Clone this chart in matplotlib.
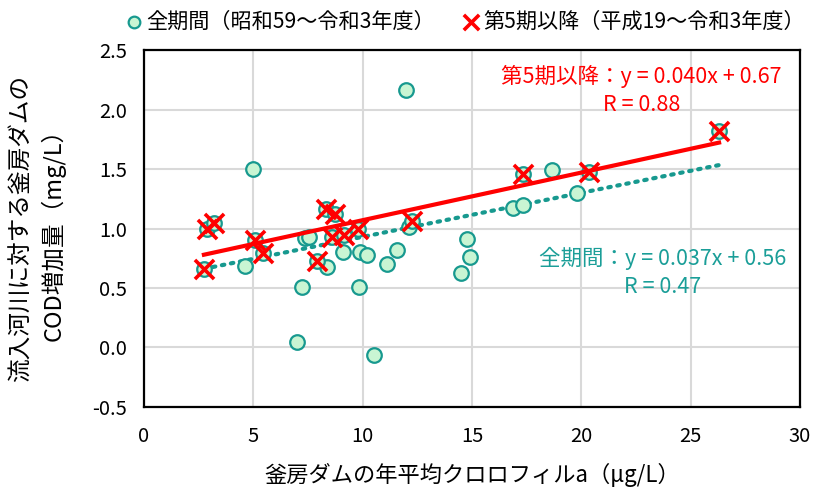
import matplotlib
matplotlib.use('Agg')
from matplotlib import pyplot as plt
import numpy as np

plt.rcParams['font.family'] = ['Noto Sans CJK JP', 'DejaVu Sans']

# all years (S59 - R3)
all_x = [5.0, 4.60, 7.38, 7.53, 7.22, 7.02, 8.37, 9.09, 9.87, 10.2, 9.83, 11.11,
         11.59, 12.12, 10.5, 18.66, 16.86, 17.35, 19.82, 14.78, 14.9, 14.52, 12.0,
         2.74, 2.86, 3.19, 5.09, 5.42, 7.90, 8.31, 8.73, 8.58, 9.15, 9.78, 12.27,
         17.31, 20.35, 26.3]
all_y = [1.50, 0.685, 0.92, 0.93, 0.51, 0.05, 0.68, 0.80, 0.80, 0.78, 0.51, 0.70,
         0.82, 1.01, -0.06, 1.49, 1.17, 1.20, 1.30, 0.91, 0.76, 0.63, 2.165,
         0.66, 1.00, 1.05, 0.90, 0.79, 0.73, 1.165, 1.12, 0.925, 0.945, 0.995, 1.06,
         1.46, 1.475, 1.82]
# period 5 onward (H19 - R3)
p5_x = [2.74, 2.86, 3.19, 5.09, 5.42, 7.90, 8.31, 8.73, 8.58, 9.15, 9.78, 12.27,
        17.31, 20.35, 26.3]
p5_y = [0.66, 1.00, 1.05, 0.90, 0.79, 0.73, 1.165, 1.12, 0.925, 0.945, 0.995, 1.06,
        1.46, 1.475, 1.82]

fit_all = (0.037, 0.56)
fit_p5 = (0.040, 0.67)

teal = '#17998f'
teal_txt = '#1a9e98'
red = '#ff0000'

fig = plt.figure(figsize=(8.2, 4.88), dpi=100)
ax = fig.add_axes([0.1756, 0.166, 0.80, 0.7315])

xs = np.array([min(p5_x), max(p5_x)])
ax.plot(xs, fit_all[0] * xs + fit_all[1], color=teal, lw=3, ls=(0, (0.6, 1.6)),
        dash_capstyle='round', zorder=2)
sc1 = ax.scatter(all_x, all_y, s=110, facecolor='#c9f5d3', edgecolor=teal, lw=1.6,
                 zorder=3, label='全期間（昭和59～令和3年度）')
ax.plot(xs, fit_p5[0] * xs + fit_p5[1], color=red, lw=3, zorder=4)
sc2 = ax.scatter(p5_x, p5_y, s=190, marker='x', color=red, lw=2.6, zorder=5,
                 label='第5期以降（平成19～令和3年度）')

ax.set_xlim(0, 30)
ax.set_ylim(-0.5, 2.5)
ax.set_xticks(np.arange(0, 31, 5))
ax.set_yticks(np.arange(-0.5, 2.51, 0.5))
ax.set_yticklabels(['%.1f' % v for v in np.arange(-0.5, 2.51, 0.5)])
ax.grid(True, color='#d9d9d9', lw=1.5)
ax.set_axisbelow(True)
ax.tick_params(length=0, labelsize=14.5, pad=12)
ax.tick_params(axis='x', pad=14)
for s in ax.spines.values():
    s.set_color('black')
    s.set_linewidth(1.6)

ax.set_xlabel('釜房ダムの年平均クロロフィルa（μg/L）', fontsize=16, labelpad=11)
ax.set_ylabel('流入河川に対する釜房ダムの\nCOD増加量（mg/L）', fontsize=17,
              labelpad=19, linespacing=1.4)

ax.text(0.758, 0.887, '第5期以降：y = 0.040x + 0.67\nR = 0.88', transform=ax.transAxes,
        color=red, fontsize=15.5, ha='center', va='center', linespacing=1.4)
ax.text(0.79, 0.377, '全期間：y = 0.037x + 0.56\nR = 0.47', transform=ax.transAxes,
        color=teal_txt, fontsize=15.5, ha='center', va='center', linespacing=1.4)

fig.legend(handles=[sc1, sc2], loc='center', bbox_to_anchor=(0.566, 0.955), ncol=2,
           frameon=False, fontsize=15.2, handletextpad=0.1, columnspacing=1.2,
           handlelength=1.0, markerscale=0.8, borderpad=0.1)

fig.savefig('out.png', dpi=100)
